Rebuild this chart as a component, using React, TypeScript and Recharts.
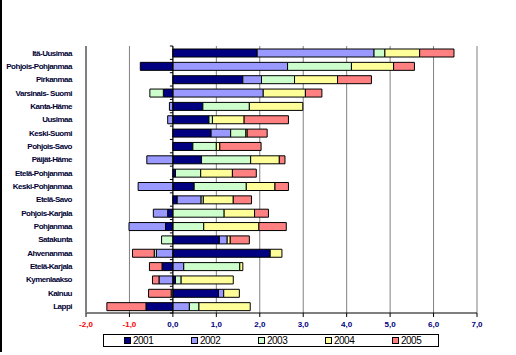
import React from "react";
import {
  BarChart,
  Bar,
  XAxis,
  YAxis,
  CartesianGrid,
  ReferenceLine,
} from "recharts";

const CATEGORIES = [
  "Itä-Uusimaa",
  "Pohjois-Pohjanmaa",
  "Pirkanmaa",
  "Varsinais- Suomi",
  "Kanta-Häme",
  "Uusimaa",
  "Keski-Suomi",
  "Pohjois-Savo",
  "Päijät-Häme",
  "Etelä-Pohjanmaa",
  "Keski-Pohjanmaa",
  "Etelä-Savo",
  "Pohjois-Karjala",
  "Pohjanmaa",
  "Satakunta",
  "Ahvenanmaa",
  "Etelä-Karjala",
  "Kymenlaakso",
  "Kainuu",
  "Lappi",
];

const YEARS = ["2001", "2002", "2003", "2004", "2005"];

const V2001 = [1.94, -0.75, 1.61, -0.22, 0.69, 0.83, 0.88, 0.46, 0.66, 0.06, 0.49, 0.1, -0.12, -0.17, 1.07, 2.24, -0.25, 0.06, 1.05, -0.62];
const V2002 = [2.69, 2.64, 0.43, 2.08, -0.08, -0.12, 0.45, 0, -0.6, 0, -0.8, 0.55, -0.33, -0.84, 0.18, -0.38, 0.25, -0.32, 0.12, 0.38];
const V2003 = [0.25, 1.47, 0.76, -0.31, 1.07, 0.08, 0.35, 0.54, 1.13, 0.58, 1.2, 0.05, 1.18, 0.71, -0.26, -0.05, 1.29, 0.13, -0.04, 0.22];
const V2004 = [0.8, 0.97, 0.99, 0.97, 1.23, 0.73, 0.03, 0.08, 0.66, 0.73, 0.66, 0.69, 0.7, 1.27, 0.07, 0.27, 0.07, 1.2, 0.36, 1.18];
const V2005 = [0.79, 0.48, 0.78, 0.38, 0, 1.02, 0.46, 0.95, 0.13, 0.55, 0.31, 0.42, 0.32, 0.63, 0.44, -0.5, -0.29, -0.15, -0.52, -0.9];

const X_TICKS = [-2, -1, 0, 1, 2, 3, 4, 5, 6, 7];

const COLORS: Record<string, string> = {
  "2001": "#000080",
  "2002": "#9999FF",
  "2003": "#CCFFCC",
  "2004": "#FFFF99",
  "2005": "#FF8080",
};

const SERIES = [V2001, V2002, V2003, V2004, V2005];

const data = CATEGORIES.map((name, i) => {
  const row: Record<string, string | number> = { name };
  YEARS.forEach((y, k) => {
    row[y] = SERIES[k][i];
  });
  return row;
});

const FONT = "'Liberation Sans', Arial, sans-serif";

const fmt = (v: number) => v.toFixed(1).replace(".", ",");

const XTick = (props: any) => {
  const { x, y, payload } = props;
  return (
    <text
      x={x}
      y={y}
      dy="0.71em"
      textAnchor="middle"
      fill={payload.value < 0 ? "#FF0000" : "#000080"}
      fontSize={8}
      fontWeight="bold"
      fontFamily={FONT}
    >
      {fmt(payload.value)}
    </text>
  );
};

const YTick = (props: any) => {
  const { x, y, payload } = props;
  return (
    <text
      x={x}
      y={y}
      dy="0.355em"
      textAnchor="end"
      fill="#000033"
      fontSize={8}
      fontWeight="bold"
      letterSpacing={-0.5}
      fontFamily={FONT}
    >
      {payload.value}
    </text>
  );
};

// zero axis with small ticks between the categories
const ZeroAxis = (props: any) => {
  const { x1, y1, x2, y2 } = props;
  const n = CATEGORIES.length;
  const marks = [];
  for (let i = 0; i <= n; i++) {
    const yy = y1 + ((y2 - y1) * i) / n;
    marks.push(<line key={i} x1={x1 - 3} x2={x1} y1={yy} y2={yy} stroke="#000" strokeWidth={1} />);
  }
  return (
    <g>
      <line x1={x1} y1={y1} x2={x2} y2={y2} stroke="#000" strokeWidth={1} />
      {marks}
    </g>
  );
};

export default function App() {
  return (
    <div
      style={{
        position: "absolute",
        left: 0,
        top: 0,
        width: 516,
        height: 355,
        background: "#fff",
        fontFamily: FONT,
      }}
    >
      <div style={{ position: "absolute", left: 0, top: 0, width: 2, height: 352, background: "#000" }} />
      <BarChart
        width={516}
        height={355}
        data={data}
        layout="vertical"
        stackOffset="sign"
        barSize={8}
        margin={{ top: 46, right: 39, bottom: 22, left: 0 }}
      >
        <CartesianGrid horizontal={false} stroke="#808080" strokeWidth={1} />
        <XAxis
          type="number"
          domain={[-2, 7]}
          ticks={X_TICKS}
          interval={0}
          height={20}
          axisLine={{ stroke: "#000", strokeWidth: 1 }}
          tickLine={{ stroke: "#000" }}
          tickSize={4}
          tickMargin={4}
          tick={<XTick />}
        />
        <XAxis
          xAxisId="top"
          orientation="top"
          type="number"
          domain={[-2, 7]}
          ticks={X_TICKS}
          height={0}
          tick={false}
          tickLine={false}
          axisLine={{ stroke: "#808080", strokeWidth: 1 }}
        />
        <YAxis
          type="category"
          dataKey="name"
          width={86}
          interval={0}
          axisLine={{ stroke: "#808080", strokeWidth: 2 }}
          tickLine={false}
          tickMargin={8}
          tick={<YTick />}
        />
        <YAxis
          yAxisId="right"
          orientation="right"
          type="category"
          dataKey="name"
          width={0}
          tick={false}
          tickLine={false}
          axisLine={{ stroke: "#808080", strokeWidth: 2 }}
        />
        {YEARS.map((y) => (
          <Bar
            key={y}
            dataKey={y}
            stackId="a"
            fill={COLORS[y]}
            stroke="#000"
            strokeWidth={1}
            isAnimationActive={false}
          />
        ))}
        <ReferenceLine x={0} shape={<ZeroAxis />} />
      </BarChart>
      <div
        style={{
          position: "absolute",
          left: 103,
          top: 334,
          width: 336,
          height: 13,
          border: "1px solid #000",
          boxSizing: "border-box",
        }}
      >
        {YEARS.map((y, i) => (
          <div
            key={y}
            style={{
              position: "absolute",
              left: 20 + i * 67,
              top: 0,
              height: 11,
              display: "flex",
              alignItems: "center",
            }}
          >
            <span
              style={{
                display: "inline-block",
                width: 5,
                height: 5,
                background: COLORS[y],
                border: "1px solid #000",
                marginRight: 2,
              }}
            />
            <span style={{ fontSize: 10, letterSpacing: -0.5, color: "#000", lineHeight: "11px" }}>{y}</span>
          </div>
        ))}
      </div>
    </div>
  );
}
